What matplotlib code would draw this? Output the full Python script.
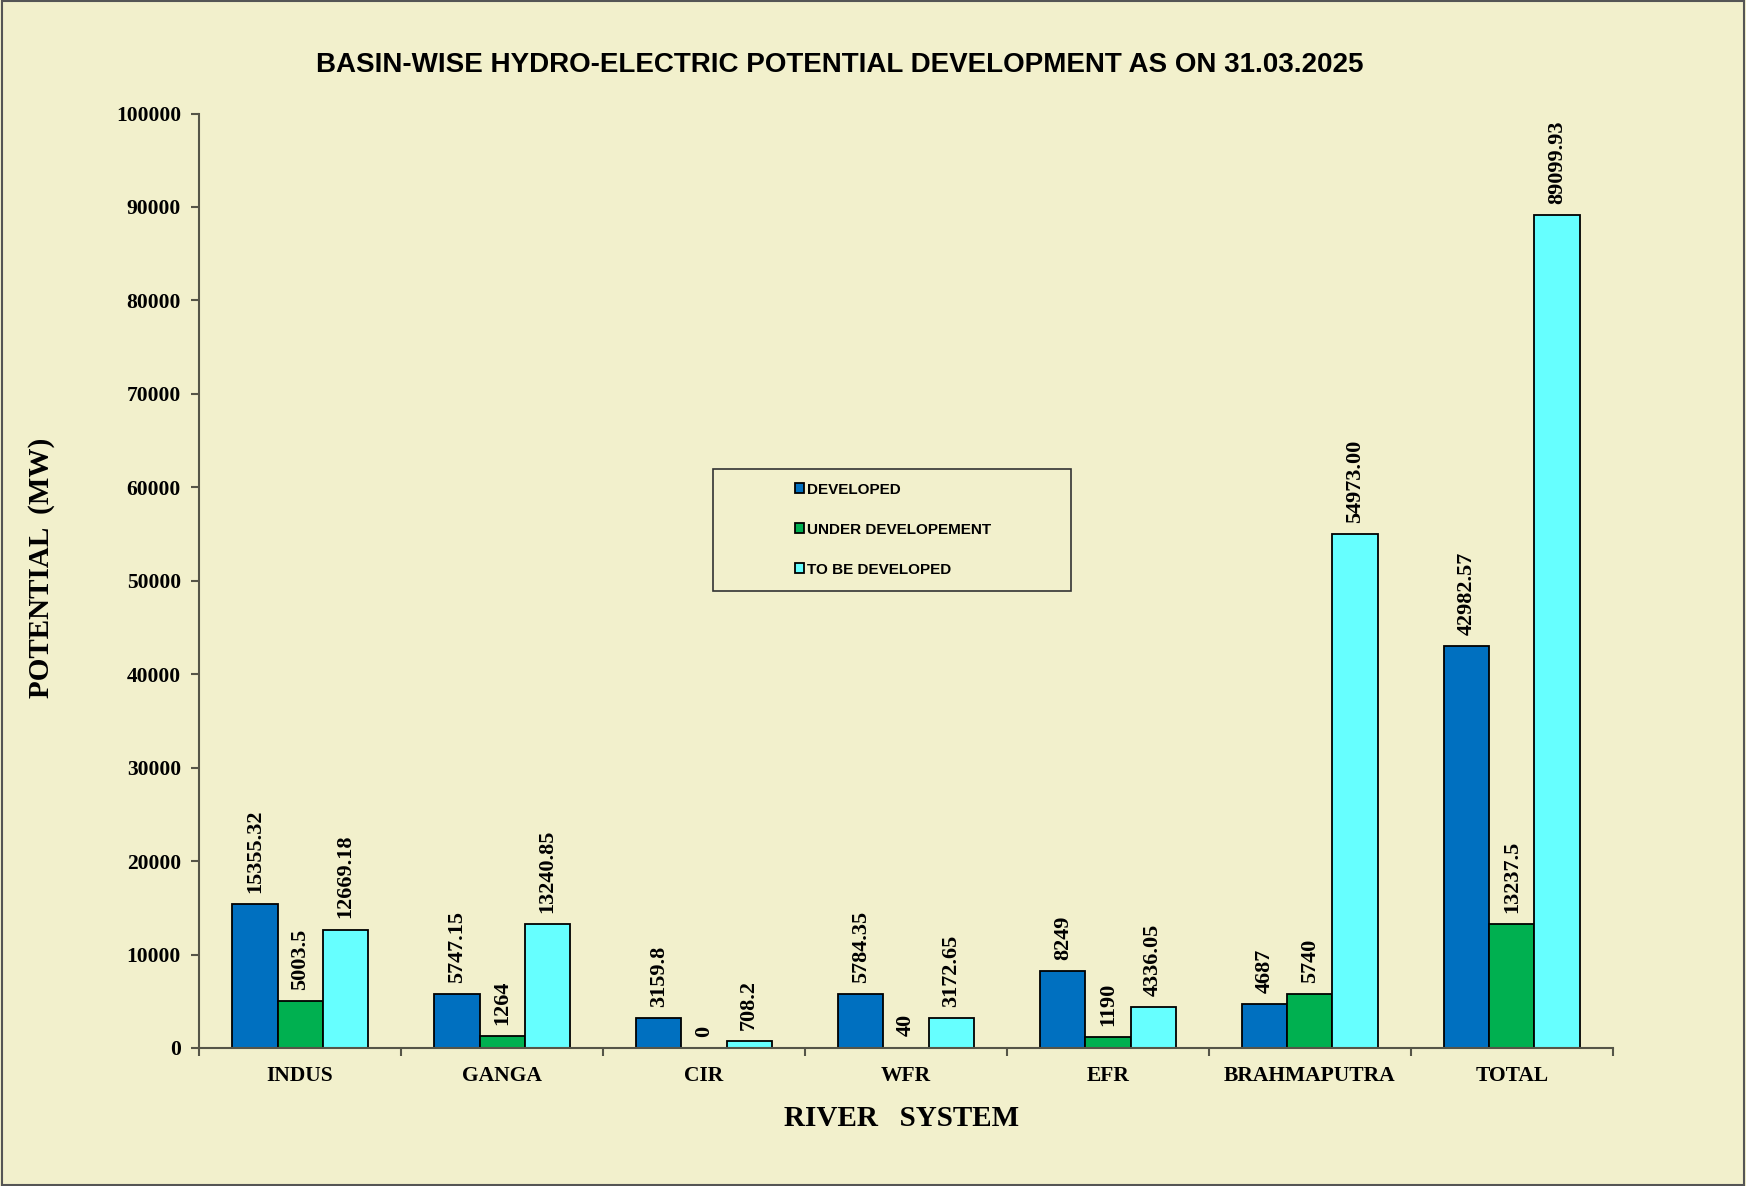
import numpy as np
import matplotlib.pyplot as plt
from matplotlib.patches import Rectangle

# Basin-wise hydro potential (MW)
basins = ['INDUS', 'GANGA', 'CIR', 'WFR', 'EFR', 'BRAHMAPUTRA', 'TOTAL']
developed = ['15355.32', '5747.15', '3159.8', '5784.35', '8249', '4687', '42982.57']
under_dev = ['5003.5', '1264', '0', '40', '1190', '5740', '13237.5']
to_be_dev = ['12669.18', '13240.85', '708.2', '3172.65', '4336.05', '54973.00', '89099.93']

series_names = ['DEVELOPED', 'UNDER DEVELOPEMENT', 'TO BE DEVELOPED']
series_colors = ['#0070C0', '#00B050', '#66FFFF']
yticks = [0, 10000, 20000, 30000, 40000, 50000, 60000, 70000, 80000, 90000, 100000]

BG = '#F2F0CC'
SERIF = ['Liberation Serif', 'DejaVu Serif']
SANS = ['Liberation Sans', 'DejaVu Sans']

fig = plt.figure(figsize=(17.46, 11.86), dpi=100, facecolor=BG)
ax = fig.add_axes([0.1140, 0.1164, 0.8098, 0.7879], facecolor=BG)

x = np.arange(len(basins))
w = 0.223
handles = []
for i, (labels, name, col) in enumerate(zip([developed, under_dev, to_be_dev], series_names, series_colors)):
    vals = [float(s) for s in labels]
    pos = x + (i - 1) * w
    bars = ax.bar(pos, vals, w, color=col, edgecolor='black', linewidth=1.3, label=name)
    handles.append(bars)
    for px, v, s in zip(pos, vals, labels):
        ax.annotate(s, (px, v), xytext=(0, 8), textcoords='offset points',
                    rotation=90, ha='center', va='bottom',
                    fontsize=16, fontweight='bold', family=SERIF)

ax.set_xlim(-0.5, len(basins) - 0.5)
ax.set_ylim(0, 100000)
ax.set_yticks(yticks)
ax.set_yticklabels([str(t) for t in yticks], fontsize=15.5, fontweight='bold', family=SERIF)

# category names centred, separator ticks between groups
ax.set_xticks(x)
ax.set_xticklabels(basins, fontsize=15.5, fontweight='bold', family=SERIF)
ax.tick_params(axis='x', which='major', length=0, pad=13)
ax.set_xticks(np.arange(len(basins) + 1) - 0.5, minor=True)
ax.tick_params(axis='x', which='minor', length=6, width=1.5, color='#555548', direction='out')
ax.tick_params(axis='y', length=6, width=1.5, color='#555548', pad=7)

for side in ['top', 'right']:
    ax.spines[side].set_visible(False)
for side in ['left', 'bottom']:
    ax.spines[side].set_color('#555548')
    ax.spines[side].set_linewidth(1.5)

# legend box
ax.add_patch(Rectangle((0.3635, 0.489), 0.2532, 0.1306, transform=ax.transAxes,
                       facecolor='none', edgecolor='#333333', linewidth=1.2, zorder=5))
leg = ax.legend(handles=handles, loc='upper left', bbox_to_anchor=(0.4215, 0.605),
                frameon=False, handlelength=0.6, handleheight=0.6, handletextpad=0.2,
                labelspacing=1.7, borderpad=0, borderaxespad=0,
                prop={'family': SANS, 'weight': 'bold', 'size': 11})

fig.text(0.481, 0.9449, 'BASIN-WISE HYDRO-ELECTRIC POTENTIAL DEVELOPMENT AS ON 31.03.2025',
         ha='center', va='center', fontsize=20, fontweight='bold', family=SANS)
fig.text(42 / 1746, 1 - 568 / 1186, 'POTENTIAL  (MW)', rotation=90, ha='center', va='center',
         fontsize=21, fontweight='bold', family=SERIF)
fig.text(902 / 1746, 1 - 1118 / 1186, 'RIVER   SYSTEM', ha='center', va='center',
         fontsize=21, fontweight='bold', family=SERIF)

# outer frame
fig.patches.append(Rectangle((0.001, 0.001), 0.998, 0.998, transform=fig.transFigure,
                             facecolor='none', edgecolor='#555555', linewidth=1.5))

fig.savefig('out.png', dpi=100, facecolor=BG)
